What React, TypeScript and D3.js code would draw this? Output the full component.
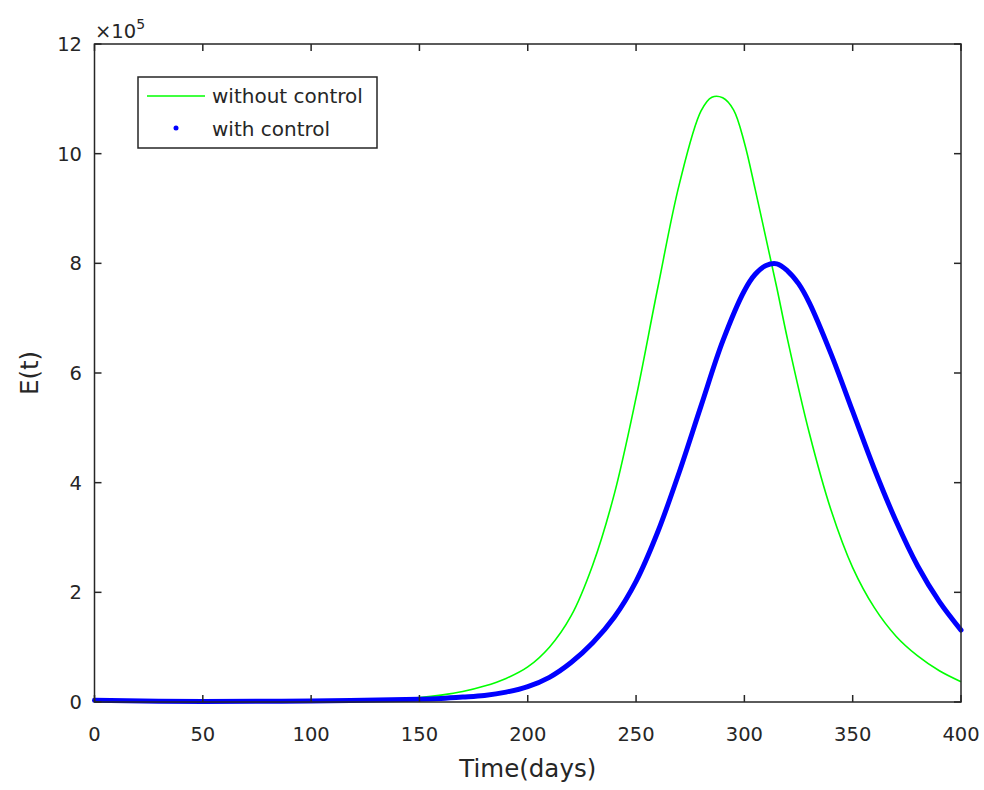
import { useEffect, useRef } from "react";
import * as d3 from "d3";

// days and E(t) values, in units of 1e5
const greenDays = [0, 50, 100, 120, 140, 150, 160, 170, 180, 190, 200, 210, 220, 230, 240, 250, 260, 270, 280, 285, 290, 295, 300, 305, 310, 315, 320, 330, 340, 350, 360, 370, 380, 390, 400];
const greenValues = [0.02, 0.005, 0.015, 0.03, 0.05, 0.08, 0.125, 0.19, 0.29, 0.43, 0.64, 1.0, 1.57, 2.5, 3.8, 5.55, 7.55, 9.45, 10.78, 11.03, 11.02, 10.8, 10.2, 9.35, 8.45, 7.55, 6.6, 4.9, 3.5, 2.45, 1.72, 1.2, 0.84, 0.57, 0.37];

const blueDays = [0, 50, 100, 150, 160, 170, 180, 190, 200, 210, 220, 230, 240, 250, 260, 270, 280, 290, 300, 305, 310, 315, 320, 325, 330, 340, 350, 360, 370, 380, 390, 400];
const blueValues = [0.03, 0.01, 0.02, 0.05, 0.065, 0.09, 0.12, 0.18, 0.28, 0.45, 0.72, 1.08, 1.55, 2.2, 3.1, 4.2, 5.4, 6.58, 7.5, 7.8, 7.96, 7.99, 7.86, 7.63, 7.28, 6.35, 5.3, 4.25, 3.3, 2.48, 1.83, 1.31];

const xTicks = [0, 50, 100, 150, 200, 250, 300, 350, 400];
const yTicks = [0, 2, 4, 6, 8, 10, 12];
const seriesNames = ["without control", "with control"];

const W = 984;
const H = 790;
const FONT = "'DejaVu Sans', 'Liberation Sans', sans-serif";
const AXIS = "#262626";

export default function App() {
  const ref = useRef<SVGSVGElement>(null);

  useEffect(() => {
    document.body.style.margin = "0";
    const svg = d3.select(ref.current);
    svg.selectAll("*").remove();

    const x = d3.scaleLinear().domain([0, 400]).range([94.5, 961]);
    const y = d3.scaleLinear().domain([0, 12]).range([702, 44]);
    const [x0, x1] = x.range();
    const [y0, y1] = y.range();
    const tl = 7;

    svg.append("clipPath").attr("id", "plotclip")
      .append("rect").attr("x", x0 - 4).attr("y", y1).attr("width", x1 - x0 + 8).attr("height", y0 - y1 + 4);

    const line = d3.line<[number, number]>()
      .x(d => x(d[0]))
      .y(d => y(Math.max(0, d[1])))
      .curve(d3.curveCatmullRom.alpha(0.5));

    const green: [number, number][] = greenDays.map((d, i) => [d, greenValues[i]]);
    const blue: [number, number][] = blueDays.map((d, i) => [d, blueValues[i]]);

    const plot = svg.append("g").attr("clip-path", "url(#plotclip)");
    plot.append("path").attr("d", line(green)).attr("fill", "none")
      .attr("stroke", "#00ff00").attr("stroke-width", 1.6);
    plot.append("path").attr("d", line(blue)).attr("fill", "none")
      .attr("stroke", "#0000ff").attr("stroke-width", 5).attr("stroke-linecap", "round");

    // box with inward ticks on all sides
    const ax = svg.append("g").attr("stroke", AXIS).attr("stroke-width", 1.5).attr("fill", "none");
    ax.append("rect").attr("x", x0).attr("y", y1).attr("width", x1 - x0).attr("height", y0 - y1);
    xTicks.forEach(t => {
      ax.append("line").attr("x1", x(t)).attr("x2", x(t)).attr("y1", y0).attr("y2", y0 - tl);
      ax.append("line").attr("x1", x(t)).attr("x2", x(t)).attr("y1", y1).attr("y2", y1 + tl);
    });
    yTicks.forEach(t => {
      ax.append("line").attr("y1", y(t)).attr("y2", y(t)).attr("x1", x0).attr("x2", x0 + tl);
      ax.append("line").attr("y1", y(t)).attr("y2", y(t)).attr("x1", x1).attr("x2", x1 - tl);
    });

    const txt = svg.append("g").attr("fill", AXIS).attr("font-family", FONT);
    txt.selectAll(".xt").data(xTicks).join("text")
      .attr("x", d => x(d)).attr("y", 740.5).attr("text-anchor", "middle")
      .attr("font-size", 19.5).text(d => d);
    txt.selectAll(".yt").data(yTicks).join("text")
      .attr("x", 82).attr("y", d => y(d) + 7).attr("text-anchor", "end")
      .attr("font-size", 19.5).text(d => d);

    txt.append("text").attr("x", (x0 + x1) / 2).attr("y", 777).attr("text-anchor", "middle")
      .attr("font-size", 24.5).text("Time(days)");
    txt.append("text").attr("transform", `translate(38,373) rotate(-90)`).attr("text-anchor", "middle")
      .attr("font-size", 24.5).text("E(t)");

    const exp = txt.append("text").attr("x", 95).attr("y", 38).attr("font-size", 19.5);
    exp.append("tspan").text("\u00d710");
    exp.append("tspan").attr("font-size", 14).attr("dy", -9).text("5");

    // legend
    const lg = svg.append("g");
    lg.append("rect").attr("x", 138).attr("y", 77).attr("width", 239).attr("height", 71)
      .attr("fill", "#fff").attr("stroke", AXIS).attr("stroke-width", 1.5);
    lg.append("line").attr("x1", 147).attr("x2", 205).attr("y1", 96).attr("y2", 96)
      .attr("stroke", "#00ff00").attr("stroke-width", 1.6);
    lg.append("circle").attr("cx", 176).attr("cy", 128).attr("r", 2.5).attr("fill", "#0000ff");
    lg.selectAll("text").data(seriesNames).join("text")
      .attr("x", 212).attr("y", (d, i) => 103 + i * 33)
      .attr("font-family", FONT).attr("font-size", 20).attr("fill", AXIS).text(d => d);
  }, []);

  return <svg ref={ref} width={W} height={H} style={{ display: "block", background: "#fff" }} />;
}
